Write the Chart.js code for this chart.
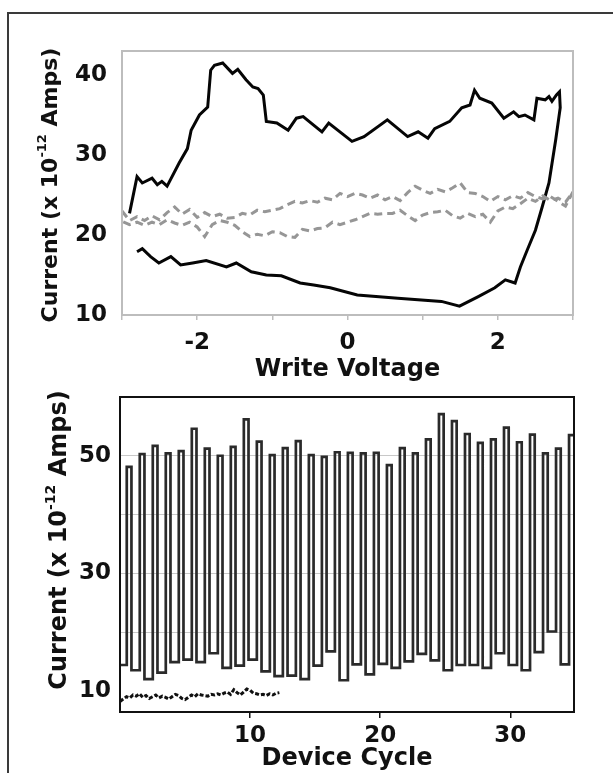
<!DOCTYPE html>
<html>
<head>
<meta charset="utf-8">
<script src="https://cdn.jsdelivr.net/npm/chart.js@4.4.1/dist/chart.umd.min.js"></script>
<style>
  html, body { margin: 0; padding: 0; background: #fff; }
  #page { position: relative; width: 613px; height: 773px; overflow: hidden; }
  #frame { position: absolute; left: 7px; top: 12px; width: 700px; height: 800px;
           border-left: 2px solid #3a3a3a; border-top: 2px solid #3a3a3a; }
  canvas { position: absolute; left: 0; }
  #writeChart { top: 0; }
  #cycleChart { top: 360px; }
</style>
</head>
<body>
<div id="page">
  <div id="frame"></div>
  <canvas id="writeChart" width="613" height="385"></canvas>
  <canvas id="cycleChart" width="613" height="413"></canvas>
</div>
<script>
// --- top panel: current vs write voltage ---
const loopVolts = [-2.9, -2.8, -2.73, -2.6, -2.53, -2.47, -2.4, -2.24, -2.13, -2.08, -1.97, -1.86, -1.82, -1.77,
  -1.66, -1.53, -1.46, -1.35, -1.26, -1.19, -1.12, -1.08, -0.94, -0.79, -0.68, -0.59, -0.34, -0.25, 0.06, 0.22,
  0.53, 0.8, 0.94, 1.07, 1.16, 1.36, 1.52, 1.63, 1.69, 1.76, 1.92, 2.08, 2.21, 2.28, 2.36, 2.48, 2.52, 2.63,
  2.68, 2.72, 2.78, 2.82, 2.83, 2.77, 2.68, 2.59, 2.5, 2.39, 2.3, 2.23, 2.1, 1.96, 1.74, 1.49, 1.25, 0.67,
  0.13, -0.23, -0.45, -0.63, -0.88, -1.08, -1.28, -1.48, -1.61, -1.88, -2.06, -2.22, -2.35, -2.51, -2.62, -2.73, -2.8];
const loopAmps = [22.7, 27.3, 26.5, 27.1, 26.3, 26.7, 26.1, 29, 30.8, 33.1, 35, 36, 40.6, 41.2,
  41.5, 40.2, 40.7, 39.4, 38.5, 38.3, 37.5, 34.2, 34, 33.1, 34.6, 34.8, 32.9, 34, 31.7, 32.3,
  34.4, 32.3, 32.9, 32.1, 33.3, 34.2, 35.9, 36.25, 38.1, 37.1, 36.5, 34.6, 35.4, 34.8, 35, 34.4, 37.1, 36.9,
  37.3, 36.7, 37.5, 37.9, 35.9, 31.9, 26.5, 23.5, 20.6, 18.1, 16, 14, 14.4, 13.4, 12.3, 11.1, 11.7, 12.1,
  12.5, 13.4, 13.75, 14, 14.9, 15, 15.4, 16.5, 16, 16.8, 16.5, 16.25, 17.3, 16.5, 17.3, 18.3, 17.9];

const grayVolts = [-3.0, -2.9, -2.8, -2.7, -2.6, -2.5, -2.4, -2.3, -2.2, -2.1, -2.0, -1.9, -1.8, -1.7, -1.6,
  -1.5, -1.4, -1.3, -1.2, -1.1, -1.0, -0.9, -0.8, -0.7, -0.6, -0.5, -0.4, -0.3, -0.2, -0.1, 0.0,
  0.1, 0.2, 0.3, 0.4, 0.5, 0.6, 0.7, 0.8, 0.9, 1.0, 1.1, 1.2, 1.3, 1.4, 1.5,
  1.6, 1.7, 1.8, 1.9, 2.0, 2.1, 2.2, 2.3, 2.4, 2.5, 2.6, 2.7, 2.8, 2.9, 3.0];
const grayUpper = [23.0, 21.8, 22.3, 21.8, 22.4, 21.9, 22.8, 23.5, 22.6, 23.2, 22.2, 22.8, 22.3, 22.6, 22.1,
  22.2, 22.7, 22.5, 23.1, 22.9, 23.1, 23.3, 23.8, 24.2, 24.0, 24.3, 24.1, 24.6, 24.4, 25.2, 24.8,
  25.2, 25.0, 24.6, 25.0, 24.4, 24.8, 24.3, 25.3, 26.1, 25.6, 25.2, 25.7, 25.4, 25.9, 26.5,
  25.3, 25.2, 24.8, 24.2, 24.8, 24.4, 24.9, 24.6, 25.3, 24.8, 24.5, 24.8, 24.2, 23.6, 25.4];
const grayLower = [21.7, 21.3, 21.6, 21.2, 21.6, 21.3, 21.9, 21.5, 21.2, 21.6, 21.0, 19.8, 21.3, 21.8, 21.6,
  21.2, 20.4, 19.8, 20.1, 19.9, 20.4, 20.3, 19.8, 19.7, 20.7, 20.5, 20.8, 20.9, 21.6, 21.3, 21.6,
  21.9, 22.3, 22.7, 22.6, 22.7, 22.7, 23.1, 22.4, 21.8, 22.5, 22.8, 22.9, 23.1, 22.4, 22.1,
  22.7, 22.3, 22.6, 21.6, 23.0, 23.5, 23.3, 23.9, 24.6, 24.2, 24.9, 24.3, 24.6, 24.1, 25.4];

const voltTicks = [-3, -2, -1, 0, 1, 2, 3];
const voltLabels = [-2, 0, 2];
const writeAmpTicks = [10, 20, 30, 40];

// --- bottom panel: current over device cycles ---
// ON read of each cycle, and the OFF read that comes before it
const onAmps = [48.1, 50.3, 51.7, 50.4, 50.8, 54.6, 51.2, 50.0, 51.5, 56.2, 52.4, 50.1, 51.3, 52.5, 50.1,
  49.8, 50.6, 50.5, 50.4, 50.5, 48.4, 51.3, 50.4, 52.8, 57.1, 55.9, 53.7, 52.2, 52.8, 54.8, 52.3, 53.6,
  50.4, 51.2, 53.5];
const offAmps = [14.4, 13.5, 12.0, 13.1, 14.9, 15.3, 14.9, 16.4, 13.9, 14.3, 15.3, 13.3, 12.5, 12.6, 12.0,
  14.3, 16.7, 11.8, 14.5, 12.8, 14.6, 13.9, 15.0, 16.3, 15.2, 13.5, 14.4, 14.4, 13.9, 16.4, 14.4, 13.5,
  16.6, 20.1, 14.5];
const floorCycle = [0, 0.25, 0.5, 0.75, 1, 1.25, 1.5, 1.75, 2, 2.25, 2.5, 2.75, 3, 3.25, 3.5, 3.75, 4, 4.25,
  4.5, 4.75, 5, 5.25, 5.5, 5.75, 6, 6.25, 6.5, 6.75, 7, 7.25, 7.5, 7.75, 8, 8.25, 8.5, 8.75, 9, 9.25, 9.5,
  9.75, 10, 10.25, 10.5, 10.75, 11, 11.25, 11.5, 11.75, 12, 12.25];
const floorAmps = [8.2, 8.6, 9.0, 8.8, 9.3, 9.1, 9.5, 8.9, 9.2, 8.7, 9.0, 9.3, 8.8, 9.1, 8.9, 8.6, 9.0, 9.4,
  9.2, 8.7, 8.5, 8.9, 9.3, 9.0, 9.5, 9.3, 9.2, 9.1, 9.4, 9.3, 9.5, 9.3, 9.6, 9.8, 9.4, 10.2, 9.7, 9.3, 9.8,
  10.3, 10.1, 9.6, 9.5, 9.3, 9.4, 9.2, 9.5, 9.3, 9.6, 9.7];

const cycleTicks = [10, 20, 30];
const cycleAmpTicks = [10, 20, 30, 40, 50];
const cycleAmpLabels = [10, 30, 50];

const FONT = '"DejaVu Sans", Verdana, sans-serif';
Chart.defaults.font.family = FONT;
Chart.defaults.font.weight = 'bold';
Chart.defaults.color = '#111';

// rotated y title with a real superscript
const ampsTitle = {
  id: 'ampsTitle',
  afterDraw(chart, args, opts) {
    const ctx = chart.ctx;
    const size = opts.size;
    const parts = [
      ['Current (x 10', size, 0],
      ['-12', Math.round(size * 0.58), -size * 0.36],
      [' Amps)', size, 0],
    ];
    ctx.save();
    ctx.translate(opts.x, opts.y);
    ctx.rotate(-Math.PI / 2);
    ctx.fillStyle = '#111';
    ctx.textBaseline = 'middle';
    let total = 0;
    parts.forEach(p => { ctx.font = `bold ${p[1]}px ${FONT}`; total += ctx.measureText(p[0]).width; });
    let x = -total / 2;
    parts.forEach(p => {
      ctx.font = `bold ${p[1]}px ${FONT}`;
      ctx.fillText(p[0], x, p[2]);
      x += ctx.measureText(p[0]).width;
    });
    ctx.restore();
  }
};

const plotFrame = {
  id: 'plotFrame',
  afterDatasetsDraw(chart, args, opts) {
    const { ctx, chartArea: a } = chart;
    ctx.save();
    ctx.strokeStyle = opts.color;
    ctx.lineWidth = opts.width;
    ctx.strokeRect(a.left, a.top, a.right - a.left, a.bottom - a.top);
    ctx.restore();
  }
};

const toPoints = (xs, ys) => xs.map((x, i) => ({ x, y: ys[i] }));
const fixTicks = list => scale => { scale.ticks = list.map(v => ({ value: v })); };

// gray loop: sweep up on the upper branch, back on the lower one
const grayLoop = toPoints(grayVolts, grayUpper)
  .concat(toPoints(grayVolts, grayLower).slice(0, -1).reverse());

new Chart(document.getElementById('writeChart'), {
  type: 'scatter',
  data: {
    datasets: [
      {
        data: grayLoop,
        showLine: true,
        borderColor: '#969696',
        borderWidth: 3,
        borderDash: [8, 5],
        pointRadius: 0,
      },
      {
        data: toPoints(loopVolts, loopAmps),
        showLine: true,
        borderColor: '#050505',
        borderWidth: 3,
        pointRadius: 0,
      },
    ],
  },
  options: {
    responsive: false,
    animation: false,
    layout: { padding: { top: 51, right: 40, left: 0, bottom: 0 } },
    plugins: {
      legend: { display: false },
      tooltip: { enabled: false },
      ampsTitle: { x: 51, y: 185, size: 22 },
      plotFrame: { color: '#bdbdbd', width: 2 },
    },
    scales: {
      x: {
        type: 'linear',
        min: -3,
        max: 3,
        afterFit: s => { s.height = 70; },
        afterBuildTicks: fixTicks(voltTicks),
        border: { display: false },
        grid: { drawOnChartArea: false, color: '#bdbdbd', lineWidth: 1.5, tickLength: 5 },
        ticks: {
          padding: 9,
          font: { size: 23, weight: 'bold' },
          callback: v => (voltLabels.includes(v) ? String(v) : ''),
        },
        title: { display: true, text: 'Write Voltage', font: { size: 24, weight: 'bold' }, padding: { top: 0, bottom: 1 } },
      },
      y: {
        min: 10,
        max: 43,
        afterFit: s => { s.width = 122; },
        afterBuildTicks: fixTicks(writeAmpTicks),
        border: { display: false },
        grid: { display: false },
        ticks: { padding: 7, font: { size: 23, weight: 'bold' } },
      },
    },
  },
  plugins: [ampsTitle, plotFrame],
});

// square-wave trace: OFF read, then a short ON pulse in each cycle
const onStart = 0.48, onEnd = 0.12;
const cycleTrace = [{ x: 0, y: offAmps[0] }];
onAmps.forEach((on, i) => {
  const k = i + 1;
  cycleTrace.push({ x: k - onStart, y: on });
  cycleTrace.push({ x: k - onEnd, y: i + 1 < offAmps.length ? offAmps[i + 1] : on });
});

new Chart(document.getElementById('cycleChart'), {
  type: 'scatter',
  data: {
    datasets: [
      {
        data: cycleTrace,
        showLine: true,
        stepped: true,
        borderColor: '#2a2a2a',
        borderWidth: 2.7,
        pointRadius: 0,
      },
      {
        data: cycleTrace,
        showLine: true,
        stepped: true,
        borderColor: '#c0c0c0',
        borderWidth: 1,
        pointRadius: 0,
      },
      {
        data: toPoints(floorCycle, floorAmps),
        showLine: true,
        borderColor: '#111',
        borderWidth: 3,
        borderDash: [4, 2],
        pointRadius: 0,
      },
    ],
  },
  options: {
    responsive: false,
    animation: false,
    layout: { padding: { top: 37, right: 39, left: 0, bottom: 0 } },
    plugins: {
      legend: { display: false },
      tooltip: { enabled: false },
      ampsTitle: { x: 60, y: 180, size: 24 },
      plotFrame: { color: '#111', width: 2 },
    },
    scales: {
      x: {
        type: 'linear',
        min: 0,
        max: 34.9,
        afterFit: s => { s.height = 61; },
        afterBuildTicks: fixTicks(cycleTicks),
        border: { display: false },
        grid: { drawOnChartArea: false, color: '#111', lineWidth: 1.5, tickLength: 6 },
        ticks: { padding: 4, font: { size: 23, weight: 'bold' } },
        title: { display: true, text: 'Device Cycle', font: { size: 24, weight: 'bold' }, padding: { top: 0, bottom: 0 } },
      },
      y: {
        min: 6.4,
        max: 60,
        afterFit: s => { s.width = 120; },
        afterBuildTicks: fixTicks(cycleAmpTicks),
        border: { display: false },
        grid: {
          drawTicks: false,
          color: c => (c.tick && c.tick.value === 10 ? 'rgba(0,0,0,0)' : '#c8c8c8'),
          lineWidth: 1,
        },
        ticks: {
          padding: 9,
          font: { size: 23, weight: 'bold' },
          callback: v => (cycleAmpLabels.includes(v) ? String(v) : ''),
        },
      },
    },
  },
  plugins: [ampsTitle, plotFrame],
});
</script>
</body>
</html>
